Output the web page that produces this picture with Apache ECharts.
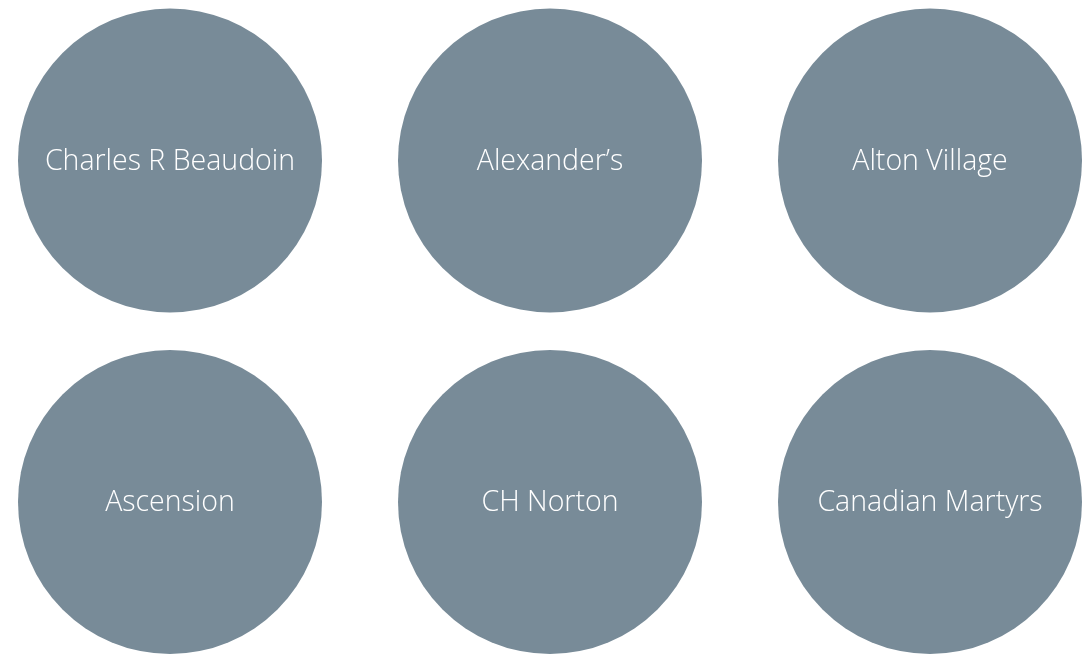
<!DOCTYPE html>
<html>
<head>
<meta charset="utf-8">
<title>Schools</title>
<script src="https://cdn.jsdelivr.net/npm/echarts@6/dist/echarts.min.js"></script>
<style>
  html, body { margin: 0; padding: 0; background: #fff; }
  #chart { width: 1085px; height: 654px; }
</style>
</head>
<body>
<div id="chart"></div>
<script>
// school names, laid out three per row
const schools = [
  'Charles R Beaudoin', 'Alexander\u2019s', 'Alton Village',
  'Ascension', 'CH Norton', 'Canadian Martyrs'
]
const columns = [0, 1, 2]
const rows = [0, 1]

const points = schools.map((name, i) => ({
  name: name,
  value: [columns[i % 3], rows[Math.floor(i / 3)]]
}))

const chart = echarts.init(document.getElementById('chart'))
chart.setOption({
  animation: false,
  grid: { left: 170, right: 155, top: 160.5, bottom: 152 },
  xAxis: { type: 'value', min: 0, max: 2, show: false },
  yAxis: { type: 'value', min: 0, max: 1, inverse: true, show: false },
  series: [
    {
      type: 'scatter',
      symbol: 'circle',
      symbolSize: 304,
      data: points,
      itemStyle: { color: '#788b98', opacity: 1 },
      label: {
        show: true,
        position: 'inside',
        formatter: '{b}',
        color: '#ffffff',
        fontFamily: 'Open Sans',
        fontWeight: 300,
        fontSize: 28.5,
        offset: [0, 1]
      },
      emphasis: { disabled: true }
    }
  ]
})
</script>
</body>
</html>
